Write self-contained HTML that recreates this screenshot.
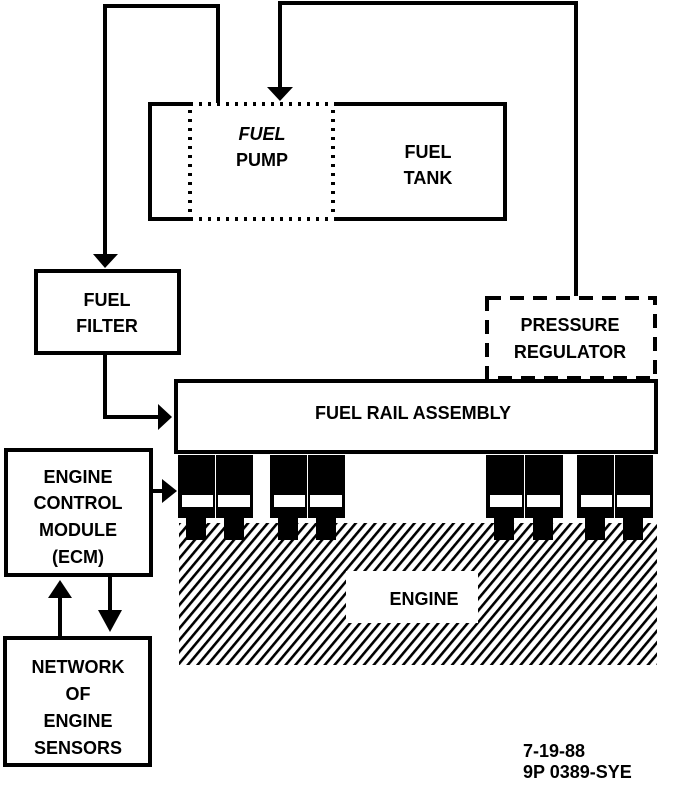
<!DOCTYPE html>
<html><head><style>
html,body{margin:0;padding:0;background:#fff;}
svg{display:block;}
text{font-family:"Liberation Sans",sans-serif;font-weight:bold;font-size:18px;fill:#000;text-anchor:middle;}
</style></head><body>
<svg width="688" height="796" viewBox="0 0 688 796" xmlns="http://www.w3.org/2000/svg">
<defs>
<pattern id="h" patternUnits="userSpaceOnUse" width="7.5" height="7.5" patternTransform="rotate(40)">
<rect width="7.5" height="7.5" fill="#fff"/>
<rect x="0" y="0" width="2.6" height="7.5" fill="#000"/>
</pattern>
</defs>
<g fill="none" stroke="#000" stroke-width="4">
<polyline points="105,262 105,6 218,6 218,103"/>
<polyline points="280,92 280,3 576,3 576,296"/>
<polyline points="190,104 150,104 150,219 190,219"/>
<polyline points="334,104 505,104 505,219 334,219"/>
<rect x="36" y="271" width="143" height="82"/>
<polyline points="105,353 105,417 160,417"/>
<rect x="487" y="298" width="168" height="80" stroke-dasharray="14,9"/>
<rect x="176" y="381" width="480" height="71"/>
<rect x="6" y="450" width="145" height="125"/>
<line x1="151" y1="491" x2="164" y2="491"/>
<line x1="60" y1="636" x2="60" y2="598"/>
<line x1="110" y1="575" x2="110" y2="612"/>
<rect x="5" y="638" width="145" height="127"/>
</g>
<g fill="none" stroke="#000" stroke-width="4" stroke-dasharray="3,6">
<line x1="190" y1="104" x2="334" y2="104"/>
<line x1="190" y1="219" x2="334" y2="219"/>
<line x1="190" y1="110" x2="190" y2="216"/>
<line x1="333" y1="110" x2="333" y2="216"/>
</g>
<polygon points="93,254 118,254 105,268" fill="#000"/>
<polygon points="267,87 293,87 280,101" fill="#000"/>
<polygon points="158,404 158,430 172,417" fill="#000"/>
<polygon points="162,479 162,503 177,491" fill="#000"/>
<polygon points="48,598 72,598 60,580" fill="#000"/>
<polygon points="98,610 122,610 110,632" fill="#000"/>
<rect x="179" y="523" width="478" height="142" fill="url(#h)"/>
<rect x="346" y="571" width="132" height="52" fill="#fff"/>
<g fill="#000">
<rect x="178" y="455" width="37" height="63"/><rect x="216" y="455" width="37" height="63"/>
<rect x="186" y="518" width="20" height="22"/><rect x="224" y="518" width="20" height="22"/>
<rect x="270" y="455" width="37" height="63"/><rect x="308" y="455" width="37" height="63"/>
<rect x="278" y="518" width="20" height="22"/><rect x="316" y="518" width="20" height="22"/>
<rect x="486" y="455" width="38" height="63"/><rect x="525" y="455" width="38" height="63"/>
<rect x="494" y="518" width="20" height="22"/><rect x="533" y="518" width="20" height="22"/>
<rect x="577" y="455" width="37" height="63"/><rect x="615" y="455" width="38" height="63"/>
<rect x="585" y="518" width="20" height="22"/><rect x="623" y="518" width="20" height="22"/>
</g>
<g fill="#fff">
<rect x="182" y="495" width="31" height="12"/><rect x="218" y="495" width="32" height="12"/>
<rect x="274" y="495" width="31" height="12"/><rect x="310" y="495" width="32" height="12"/>
<rect x="490" y="495" width="32" height="12"/><rect x="527" y="495" width="33" height="12"/>
<rect x="581" y="495" width="31" height="12"/><rect x="617" y="495" width="33" height="12"/>
</g>
<text x="262" y="140" font-style="italic">FUEL</text>
<text x="262" y="166">PUMP</text>
<text x="428" y="158">FUEL</text>
<text x="428" y="184">TANK</text>
<text x="107" y="306">FUEL</text>
<text x="107" y="332">FILTER</text>
<text x="570" y="331">PRESSURE</text>
<text x="570" y="358">REGULATOR</text>
<text x="413" y="419">FUEL RAIL ASSEMBLY</text>
<text x="78" y="483">ENGINE</text>
<text x="78" y="509">CONTROL</text>
<text x="78" y="536">MODULE</text>
<text x="78" y="563">(ECM)</text>
<text x="424" y="605">ENGINE</text>
<text x="78" y="673">NETWORK</text>
<text x="78" y="700">OF</text>
<text x="78" y="727">ENGINE</text>
<text x="78" y="754">SENSORS</text>
<text x="523" y="757" style="text-anchor:start">7-19-88</text>
<text x="523" y="778" style="text-anchor:start">9P 0389-SYE</text>
</svg>
</body></html>
